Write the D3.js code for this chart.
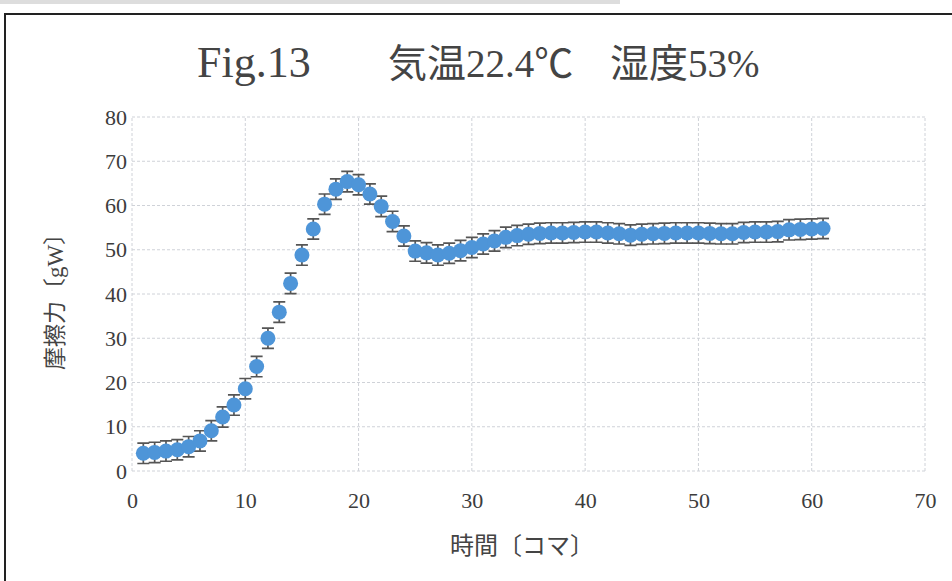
<!DOCTYPE html>
<html>
<head>
<meta charset="utf-8">
<script src="https://cdn.jsdelivr.net/npm/d3@7"></script>
<style>
  body { margin: 0; background: #fff; }
  svg { display: block; }
  text { font-family: 'Liberation Serif', 'Noto Sans CJK JP', serif; fill: #444; }
</style>
</head>
<body>
<div id="graph"></div>
<script>
// frame numbers (コマ) and friction force [gW]
var frames = d3.range(1, 62)
var force = [
  4.0, 4.2, 4.5, 4.8, 5.5, 6.8, 9.1, 12.2, 14.9, 18.6,
  23.6, 30.0, 35.9, 42.4, 48.8, 54.7, 60.3, 63.7, 65.4, 64.7,
  62.6, 59.8, 56.4, 53.1, 49.7, 49.3, 48.8, 49.2, 49.8, 50.5,
  51.3, 52.0, 52.8, 53.2, 53.5, 53.7, 53.8, 53.8, 53.9, 54.0,
  54.0, 53.8, 53.6, 53.3, 53.5, 53.6, 53.7, 53.8, 53.8, 53.8,
  53.7, 53.6, 53.6, 53.9, 54.0, 54.0, 54.1, 54.5, 54.6, 54.7, 54.8
]
var errs = [
  2.3, 2.3, 2.3, 2.3, 2.3, 2.3, 2.3, 2.3, 2.3, 2.3,
  2.3, 2.3, 2.3, 2.3, 2.3, 2.3, 2.3, 2.3, 2.3, 2.3,
  2.3, 2.3, 2.3, 2.3, 2.3, 2.3, 2.3, 2.3, 2.3, 2.3,
  2.3, 2.3, 2.3, 2.3, 2.3, 2.3, 2.3, 2.3, 2.3, 2.3,
  2.3, 2.3, 2.3, 2.3, 2.3, 2.3, 2.3, 2.3, 2.3, 2.3,
  2.3, 2.3, 2.3, 2.3, 2.3, 2.3, 2.3, 2.3, 2.3, 2.3, 2.3
]
var xTicks = [0, 10, 20, 30, 40, 50, 60, 70]
var yTicks = [0, 10, 20, 30, 40, 50, 60, 70, 80]

var data = frames.map((f, i) => ({f: f, v: force[i], e: errs[i]}))

var W = 952, H = 581
var margin = {top: 117, left: 132, right: 27, bottom: 110}

var svg = d3.select('#graph').append('svg')
  .attr('width', W).attr('height', H)

// scan frame
svg.append('rect').attr('x', 0).attr('y', 0).attr('width', 620).attr('height', 4).attr('fill', '#ddd')
svg.append('path')
  .attr('d', `M5,${H} V14 H${W}`)
  .attr('fill', 'none').attr('stroke', '#222').attr('stroke-width', 2)

var x = d3.scaleLinear().domain([0, 70]).range([margin.left, W - margin.right])
var y = d3.scaleLinear().domain([0, 80]).range([H - margin.bottom, margin.top])

// grid
var grid = svg.append('g').attr('stroke', '#cfd2d8').attr('stroke-width', 1).attr('stroke-dasharray', '3,2')
grid.selectAll('line.h').data(yTicks).join('line')
  .attr('x1', x(0)).attr('x2', x(70))
  .attr('y1', d => y(d)).attr('y2', d => y(d))
grid.selectAll('line.v').data(xTicks).join('line')
  .attr('y1', y(0)).attr('y2', y(80))
  .attr('x1', d => x(d)).attr('x2', d => x(d))

// axes
var yAxis = svg.append('g')
  .attr('transform', `translate(${x(0)},0)`)
  .call(d3.axisLeft(y).tickValues(yTicks).tickSize(0).tickPadding(5))
var xAxis = svg.append('g')
  .attr('transform', `translate(0,${y(0)})`)
  .call(d3.axisBottom(x).tickValues(xTicks).tickSize(0).tickPadding(21))
;[xAxis, yAxis].forEach(a => {
  a.select('.domain').remove()
  a.selectAll('text').attr('font-size', 22).attr('font-family', null).style('fill', '#3c3c3c')
})

// error bars
var eb = svg.append('g').attr('stroke', '#555').attr('stroke-width', 1.7).attr('fill', 'none')
eb.selectAll('path').data(data).join('path')
  .attr('d', d => {
    var cx = x(d.f), t = y(d.v + d.e), b = y(d.v - d.e)
    return `M${cx},${t}V${b}M${cx - 6},${t}H${cx + 6}M${cx - 6},${b}H${cx + 6}`
  })

// markers
svg.append('g').selectAll('circle').data(data).join('circle')
  .attr('cx', d => x(d.f)).attr('cy', d => y(d.v))
  .attr('r', 7.5)
  .attr('fill', '#4e95d8')

// titles
var title = svg.append('g')
title.append('text').attr('x', 197).attr('y', 77).attr('font-size', 44).text('Fig.13')
title.append('text').attr('x', 388).attr('y', 77).attr('font-size', 39).text('気温22.4℃')
title.append('text').attr('x', 610).attr('y', 77).attr('font-size', 39).text('湿度53%')

svg.append('text')
  .attr('text-anchor', 'middle').attr('font-size', 23)
  .attr('transform', `translate(63,${(y(0) + y(80)) / 2 + 2}) rotate(-90)`)
  .text('摩擦力〔gW〕')

svg.append('text')
  .attr('text-anchor', 'middle').attr('font-size', 24)
  .attr('x', 522).attr('y', 554)
  .text('時間〔コマ〕')
</script>
</body>
</html>
